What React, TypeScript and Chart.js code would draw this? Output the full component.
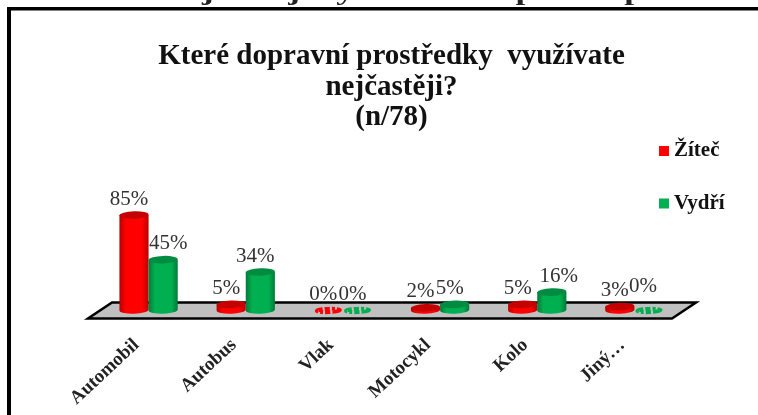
import React, { useEffect, useRef } from "react";
import { Chart, registerables } from "chart.js";

Chart.register(...registerables);

const categories = ["Automobil", "Autobus", "Vlak", "Motocykl", "Kolo", "Jiný…"];
const ziteč = [85, 5, 0, 2, 5, 3];
const vydri = [45, 34, 0, 5, 16, 0];
const seriesNames = ["Žíteč", "Vydří"];
const titleLines = ["Které dopravní prostředky  využívate", "nejčastěji?", "(n/78)"];
const cutHeading = "Graf č. 8: Nejčastěji využívané dopravní prostředky";

const SERIF = "'Liberation Serif', serif";
const palette = [
  { base: "#ff0000", dark: "#b80000", cap: "#c40000" },
  { base: "#00b050", dark: "#007a38", cap: "#008c40" },
];
// label nudges [dataset][category] = [dx, dy]
const nudges: Record<string, [number, number]> = {
  "1-0": [10, 0],
  "1-4": [12, 0],
  "1-5": [-1, -8],
};

const cylinders = {
  id: "cylinders",
  beforeDraw(chart: any) {
    const { ctx } = chart;
    ctx.save();
    ctx.fillStyle = "#fff";
    ctx.fillRect(0, 0, chart.width, chart.height);
    ctx.save();
    ctx.beginPath();
    ctx.rect(0, 0, 742, 7);
    ctx.clip();
    ctx.fillStyle = "#222";
    ctx.translate(8, 0);
    ctx.scale(1.47, 1);
    ctx.font = `bold 24px ${SERIF}`;
    ctx.textAlign = "left";
    ctx.textBaseline = "alphabetic";
    ctx.fillText(cutHeading, 0, 0);
    ctx.restore();
    ctx.fillStyle = "#000";
    ctx.fillRect(7, 7, chart.width - 7, 3.5);
    ctx.fillRect(7, 7, 4, chart.height - 7);
    ctx.restore();
  },
  beforeDatasetsDraw(chart: any) {
    const { ctx, chartArea: a } = chart;
    ctx.save();
    ctx.beginPath();
    ctx.moveTo(a.left + 12, a.bottom - 7.5);
    ctx.lineTo(a.right + 13, a.bottom - 7.5);
    ctx.lineTo(a.right - 11, a.bottom + 8.5);
    ctx.lineTo(a.left - 12, a.bottom + 8.5);
    ctx.closePath();
    ctx.fillStyle = "#c0c0c0";
    ctx.fill();
    ctx.lineWidth = 2.5;
    ctx.lineJoin = "miter";
    ctx.strokeStyle = "#000";
    ctx.stroke();
    ctx.restore();
  },
  afterDatasetsDraw(chart: any) {
    const { ctx } = chart;
    const tilt = -0.035;
    chart.data.datasets.forEach((ds: any, di: number) => {
      const p = palette[di];
      chart.getDatasetMeta(di).data.forEach((bar: any, i: number) => {
        const rx = bar.width / 2;
        const ry = 3.8;
        const x = bar.x;
        const top = bar.y;
        const base = bar.base;
        ctx.save();
        if (ds.data[i] === 0) {
          ctx.strokeStyle = p.base;
          ctx.lineWidth = 4;
          ctx.setLineDash([8, 2, 5, 2, 3, 2]);
          ctx.beginPath();
          ctx.ellipse(x, base + 0.5, rx - 3, 1.6, tilt, 0, Math.PI * 2);
          ctx.stroke();
        } else {
          const g = ctx.createLinearGradient(x - rx, 0, x + rx, 0);
          g.addColorStop(0, p.dark);
          g.addColorStop(0.22, p.base);
          g.addColorStop(0.78, p.base);
          g.addColorStop(1, p.dark);
          ctx.fillStyle = g;
          ctx.beginPath();
          ctx.ellipse(x, base, rx, ry, tilt, 0, Math.PI);
          ctx.lineTo(x - rx, top);
          ctx.lineTo(x + rx, top);
          ctx.closePath();
          ctx.fill();
          ctx.fillStyle = p.cap;
          ctx.beginPath();
          ctx.ellipse(x, top, rx, ry, tilt, 0, Math.PI * 2);
          ctx.fill();
        }
        ctx.restore();

        const [dx, dy] = nudges[`${di}-${i}`] ?? [0, 0];
        ctx.save();
        ctx.font = `21px ${SERIF}`;
        ctx.fillStyle = "#333";
        ctx.textAlign = "center";
        ctx.textBaseline = "middle";
        ctx.fillText(`${ds.data[i]}%`, x - 5 + dx, top - 16 + dy);
        ctx.restore();
      });
    });
  },
  afterDraw(chart: any) {
    const { ctx } = chart;
    ctx.save();
    chart.data.datasets.forEach((ds: any, di: number) => {
      const y = 151 + di * 52.5;
      ctx.fillStyle = palette[di].base;
      ctx.fillRect(659, y - 5, 10, 10);
      ctx.fillStyle = "#111";
      ctx.font = `bold 21px ${SERIF}`;
      ctx.textAlign = "left";
      ctx.textBaseline = "middle";
      ctx.fillText(ds.label, 674, y);
    });
    ctx.restore();
  },
};

export default function App() {
  const ref = useRef<HTMLCanvasElement>(null);
  useEffect(() => {
    const chart = new Chart(ref.current as HTMLCanvasElement, {
      type: "bar",
      data: {
        labels: categories,
        datasets: [
          { label: seriesNames[0], data: ziteč, backgroundColor: "transparent", categoryPercentage: 0.6, barPercentage: 1 },
          { label: seriesNames[1], data: vydri, backgroundColor: "transparent", categoryPercentage: 0.6, barPercentage: 1 },
        ],
      },
      options: {
        responsive: false,
        animation: false,
        layout: { padding: { left: 100, right: 75, top: 0, bottom: 0 } },
        plugins: {
          legend: { display: false },
          tooltip: { enabled: false },
          title: {
            display: true,
            text: titleLines,
            color: "#111",
            font: { family: SERIF, size: 29, weight: "bold", lineHeight: 1.06 },
            padding: { top: 41, bottom: 65 },
          },
        },
        scales: {
          y: { display: false, min: 0, max: 100 },
          x: {
            border: { display: false },
            grid: { display: false, drawTicks: false },
            afterFit(scale: any) {
              scale.height = 105;
            },
            ticks: {
              autoSkip: false,
              minRotation: 43,
              maxRotation: 43,
              padding: 24,
              labelOffset: -12,
              color: "#222",
              font: { family: SERIF, size: 19, weight: "bold" },
            },
          },
        },
      },
      plugins: [cylinders],
    } as any);
    return () => chart.destroy();
  }, []);
  return (
    <div style={{ position: "absolute", left: 0, top: 0, width: 758, height: 415, overflow: "hidden" }}>
      <canvas ref={ref} width={758} height={415} style={{ display: "block" }} />
    </div>
  );
}
